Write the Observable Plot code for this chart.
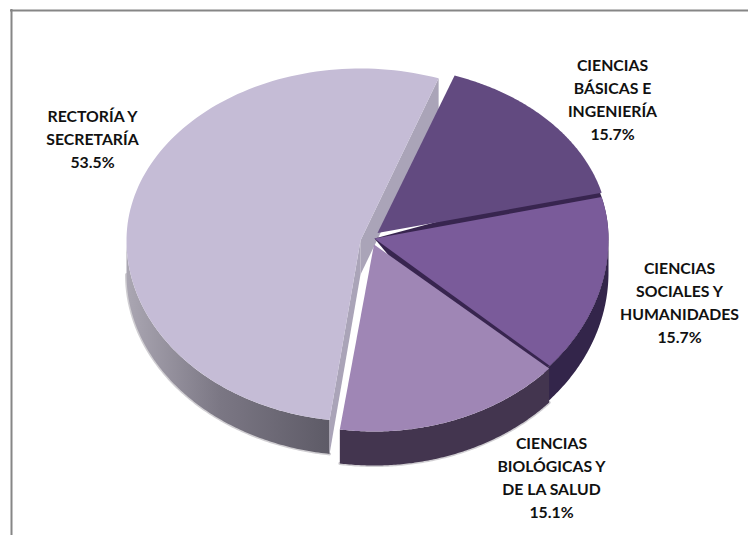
<!DOCTYPE html>
<html>
<head>
<meta charset="utf-8">
<script src="https://cdn.jsdelivr.net/npm/d3@7"></script>
<script src="https://cdn.jsdelivr.net/npm/@observablehq/plot@0.6"></script>
<style>
html,body{margin:0;padding:0;background:#fff;overflow:hidden}
svg{display:block}
</style>
</head>
<body>
<div id="chart"></div>
<script>
// Data (clockwise order, starting at the top-right slice)
const categories = ["CIENCIAS\nBÁSICAS E\nINGENIERÍA", "CIENCIAS\nSOCIALES Y\nHUMANIDADES", "CIENCIAS\nBIOLÓGICAS Y\nDE LA SALUD", "RECTORÍA Y\nSECRETARÍA"];
const values = [15.7, 15.7, 15.1, 53.5];
const topColors = ["#624a80", "#7a5b9a", "#9f86b5", "#c5bcd6"];
const wallColors = ["#3a2a55", "#33254a", "#43354f", "url(#rectoriaWall)"];
const labelX = [612, 679, 551, 92];
const labelY = [98, 301, 476, 137.5];

// Layout of the tilted pie (in px-units of the identity scales)
const W = 748, H = 535;
const startAngle = 19.5, depth = 34;
const centers = [
  {x: 377, y: 232.5, rx: 231, ryTop: 167, ryBottom: 190},
  {x: 374, y: 238, rx: 234, ryTop: 172, ryBottom: 192},
  {x: 373.5, y: 244, rx: 234, ryTop: 172, ryBottom: 187},
  {x: 360, y: 240, rx: 234, ryTop: 172, ryBottom: 181}
];
// Perspective makes the drawn boundaries differ slightly from the true angle (degrees)
const nudgeStart = [0, 0, -1, 0.7];
const nudgeEnd = [0, -1, 1.5, 0];

const rad = d => d * Math.PI / 180;
const rim = (c, t, lift = 0) => ({
  x: c.x + c.rx * Math.sin(rad(t)),
  y: c.y + lift - (Math.cos(rad(t)) > 0 ? c.ryTop : c.ryBottom) * Math.cos(rad(t))
});
const arc = (c, a, b, lift = 0) => d3.range(0, 121).map(i => rim(c, a + (b - a) * i / 120, lift));

// Slice angles derive from the values
let acc = startAngle;
const slices = values.map((v, i) => {
  const a0 = acc; acc += v * 3.6;
  return {i, a0: a0 + nudgeStart[i], a1: acc + nudgeEnd[i], c: centers[i]};
});

const sector = s => [{x: s.c.x, y: s.c.y}, ...arc(s.c, s.a0, s.a1)];
const outerWall = (s, a, b) => [...arc(s.c, a, b), ...arc(s.c, b, a, depth)];
const cutWall = (c, t) => {
  const p = rim(c, t);
  return [{x: c.x, y: c.y}, p, {x: p.x, y: p.y + depth}, {x: c.x, y: c.y + depth}];
};
const poly = (pts, fill) => Plot.line(pts, {x: "x", y: "y", fill, stroke: "none", curve: "linear"});

const [basicas, sociales, biologicas, rectoria] = slices;

const labels = categories.map((c, i) => ({
  text: c + "\n" + values[i].toFixed(1) + "%", x: labelX[i], y: labelY[i]
}));

const defs = () => {
  const d = d3.create("svg:defs");
  const g = d.append("linearGradient").attr("id", "rectoriaWall")
    .attr("gradientUnits", "userSpaceOnUse")
    .attr("x1", 127).attr("x2", 332).attr("y1", 0).attr("y2", 0);
  g.append("stop").attr("offset", 0).attr("stop-color", "#aaa6b2");
  g.append("stop").attr("offset", 0.45).attr("stop-color", "#7b7784");
  g.append("stop").attr("offset", 1).attr("stop-color", "#5d5a66");
  return d.node();
};

const chart = Plot.plot({
  width: W, height: H,
  margin: 0,
  x: {domain: [0, W], range: [0, W], axis: null},
  y: {domain: [0, H], range: [0, H], axis: null},
  style: {background: "#fff"},
  marks: [
    defs,
    // Chart frame (top and left sides visible)
    Plot.ruleY([10], {stroke: "#868686", strokeWidth: 2, x1: 10, x2: W}),
    Plot.ruleX([11], {stroke: "#868686", strokeWidth: 2, y1: 9, y2: H}),

    // Rectoría (exploded slice)
    Plot.line(arc(rectoria.c, rectoria.a0, 270, depth), {x: "x", y: "y", stroke: "#77737f", strokeOpacity: 0.35, strokeWidth: 3}),
    poly(outerWall(rectoria, rectoria.a0, 270), wallColors[3]),
    poly(cutWall(rectoria.c, rectoria.a0), "#aaa4b8"),
    poly(cutWall(rectoria.c, rectoria.a1), "#aaa4b8"),
    poly(sector(rectoria), topColors[3]),

    // Purple block: side walls, dark separators, then top faces
    Plot.line(arc(biologicas.c, biologicas.a0, biologicas.a1, depth), {x: "x", y: "y", stroke: "#77737f", strokeOpacity: 0.35, strokeWidth: 3}),
    poly(outerWall(sociales, 90, sociales.a1 + 2), wallColors[1]),
    poly(outerWall(biologicas, biologicas.a0, biologicas.a1), wallColors[2]),
    poly(sector({...sociales, a0: sociales.a0 - 6, a1: sociales.a1 + 14}), "#38254f"),
    poly(sector(basicas), topColors[0]),
    poly(sector(sociales), topColors[1]),
    poly(sector(biologicas), topColors[2]),

    // Labels
    Plot.text(labels, {
      x: "x", y: "y", text: "text",
      fontFamily: "Lato, 'Noto Sans', sans-serif",
      fontWeight: 700, fontSize: 15.8, lineHeight: 1.456,
      fill: "#111", textAnchor: "middle"
    })
  ]
});
document.getElementById("chart").appendChild(chart);
</script>
</body>
</html>
